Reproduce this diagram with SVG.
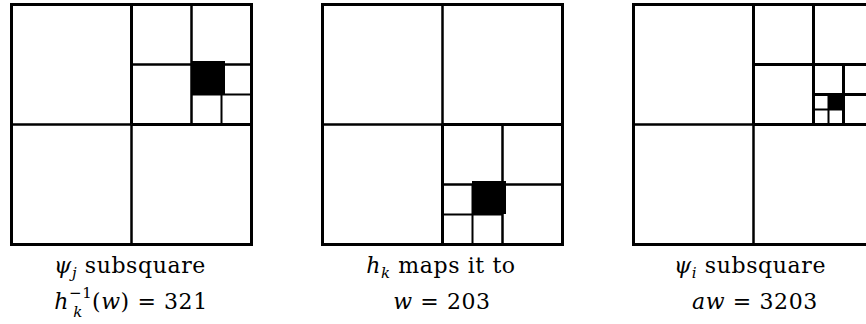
<svg xmlns="http://www.w3.org/2000/svg" width="866" height="324" viewBox="0 0 866 324">
<style>
.o{fill:none;stroke:#000;stroke-width:3}
.l{stroke:#000;stroke-width:2.5;fill:none}
.t{stroke:#000;stroke-width:2;fill:none}
.k{fill:#000}
.tx{font-family:"DejaVu Serif","Liberation Serif",serif;font-size:22px;fill:#000;text-anchor:middle;letter-spacing:0.6px}
.i{font-style:italic}
.s{font-size:15px}
</style>
<rect width="866" height="324" fill="#fff"/>
<g id="panel1">
<rect class="o" x="11.5" y="4.5" width="240" height="240"/>
<path class="l" d="M131.5 124.5V244.5M11.5 124.5H131.5"/>
<path class="o" d="M131.5 4.5V124.5M131.5 124.5H251.5"/>
<path class="l" d="M191.5 4.5V124.5M131.5 64.5H251.5"/>
<path class="t" d="M221.5 94.5V124.5M191.5 94.5H251.5"/>
<rect class="k" x="192" y="61" width="33" height="33"/>
<text class="tx" x="130" y="273"><tspan class="i">ψ</tspan><tspan class="i s" dy="5">j</tspan><tspan dy="-5"> subsquare</tspan></text>
<text class="tx" x="131" y="309"><tspan class="i">h</tspan><tspan class="s" dy="-11">−1</tspan><tspan class="i s" dx="-19" dy="19">k</tspan><tspan dx="9" dy="-8">(</tspan><tspan class="i">w</tspan><tspan>) = 321</tspan></text>
</g>
<g id="panel2">
<rect class="o" x="322.5" y="4.5" width="240" height="240"/>
<path class="l" d="M442.5 4.5V124.5M322.5 124.5H442.5"/>
<path class="o" d="M442.5 124.5V244.5M442.5 124.5H562.5"/>
<path class="l" d="M502.5 124.5V244.5M442.5 184.5H562.5"/>
<path class="t" d="M472.5 184.5V244.5M442.5 214.5H502.5"/>
<rect class="k" x="472" y="181" width="34" height="33"/>
<text class="tx" x="441" y="273"><tspan class="i">h</tspan><tspan class="i s" dy="5">k</tspan><tspan dy="-5"> maps it to</tspan></text>
<text class="tx" x="442" y="309"><tspan class="i">w</tspan><tspan> = 203</tspan></text>
</g>
<g id="panel3">
<rect class="o" x="633.5" y="4.5" width="240" height="240"/>
<path class="l" d="M753.5 124.5V244.5M633.5 124.5H753.5"/>
<path class="o" d="M753.5 4.5V124.5M753.5 124.5H873.5"/>
<path class="o" d="M813.5 4.5V124.5M753.5 64.5H873.5"/>
<path class="o" d="M843.5 64.5V124.5M813.5 94.5H873.5"/>
<path class="t" d="M828.5 94.5V124.5M813.5 109.5H843.5"/>
<rect class="k" x="828" y="94" width="16" height="15"/>
<text class="tx" x="750" y="273"><tspan class="i">ψ</tspan><tspan class="i s" dy="5">i</tspan><tspan dy="-5"> subsquare</tspan></text>
<text class="tx" x="755" y="309"><tspan class="i">aw</tspan><tspan> = 3203</tspan></text>
</g>
</svg>
